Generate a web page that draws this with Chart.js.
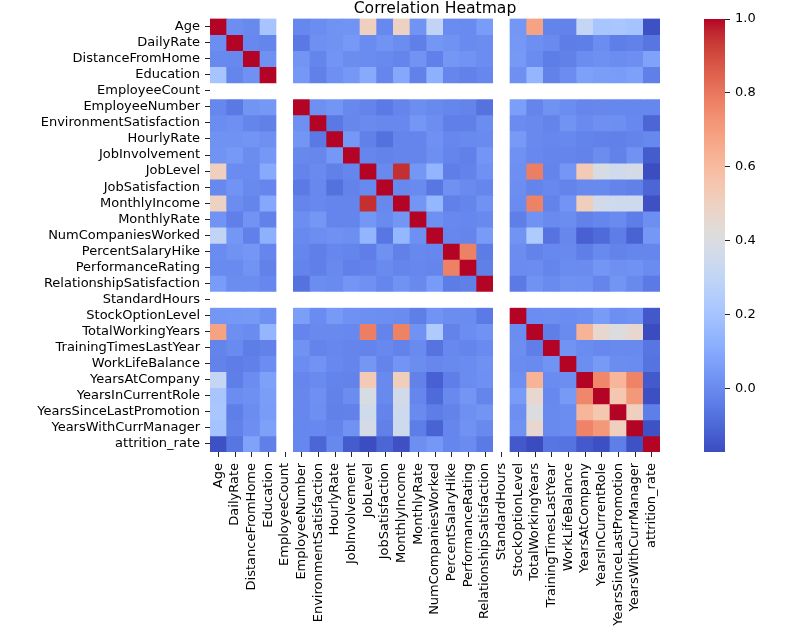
<!DOCTYPE html>
<html>
<head>
<meta charset="utf-8">
<script src="https://cdn.jsdelivr.net/npm/chart.js@4.4.1/dist/chart.umd.min.js"></script>
<style>
  body { margin: 0; background: #fff; }
  #wrap { position: relative; width: 796px; height: 642px; }
  #heat { position: absolute; left: 0; top: 0; }
  #cbar { position: absolute; left: 680px; top: 0; }
</style>
</head>
<body>
<div id="wrap">
  <canvas id="heat" width="796" height="642"></canvas>
  <canvas id="cbar" width="116" height="642"></canvas>
</div>
<script>
const labels = ['Age', 'DailyRate', 'DistanceFromHome', 'Education', 'EmployeeCount',
  'EmployeeNumber', 'EnvironmentSatisfaction', 'HourlyRate', 'JobInvolvement', 'JobLevel',
  'JobSatisfaction', 'MonthlyIncome', 'MonthlyRate', 'NumCompaniesWorked', 'PercentSalaryHike',
  'PerformanceRating', 'RelationshipSatisfaction', 'StandardHours', 'StockOptionLevel',
  'TotalWorkingYears', 'TrainingTimesLastYear', 'WorkLifeBalance', 'YearsAtCompany',
  'YearsInCurrentRole', 'YearsSinceLastPromotion', 'YearsWithCurrManager', 'attrition_rate'];

// upper triangle: row i holds the values for columns i+1 .. 26 (null = constant column)
const upper = [
  [0.011, -0.002, 0.208, null, -0.010, 0.010, 0.024, 0.030, 0.510, -0.005, 0.498, 0.028, 0.300, 0.004, 0.002, 0.054, null, 0.038, 0.680, -0.020, -0.021, 0.311, 0.213, 0.217, 0.202, -0.159],
  [-0.005, -0.017, null, -0.051, 0.018, 0.023, 0.046, 0.003, 0.030, 0.008, -0.032, 0.038, 0.023, 0.000, 0.008, null, 0.042, 0.015, 0.002, -0.038, -0.034, 0.010, -0.033, -0.026, -0.057],
  [0.021, null, 0.033, -0.016, 0.031, 0.009, 0.005, -0.003, -0.017, 0.027, -0.029, 0.040, 0.027, 0.007, null, 0.045, 0.005, -0.037, -0.027, 0.010, 0.019, 0.010, 0.014, 0.078],
  [null, 0.042, -0.027, 0.017, 0.042, 0.102, -0.011, 0.095, -0.026, 0.126, -0.011, -0.025, -0.009, null, 0.018, 0.148, -0.025, 0.010, 0.069, 0.060, 0.054, 0.069, -0.031],
  [null, null, null, null, null, null, null, null, null, null, null, null, null, null, null, null, null, null, null, null, null, null],
  [0.018, 0.035, -0.007, -0.019, -0.046, -0.015, 0.013, -0.001, -0.013, -0.020, -0.070, null, 0.062, -0.014, 0.024, 0.010, -0.011, -0.008, -0.009, -0.009, -0.010],
  [-0.050, -0.008, 0.001, -0.007, -0.006, 0.037, 0.013, -0.032, -0.030, 0.008, null, 0.003, -0.003, -0.019, 0.028, 0.002, 0.018, 0.016, -0.005, -0.103],
  [0.043, -0.028, -0.071, -0.016, -0.015, 0.022, -0.009, -0.002, 0.001, null, 0.050, -0.002, -0.009, -0.005, -0.020, -0.024, -0.027, -0.020, -0.007],
  [-0.013, -0.021, -0.015, -0.016, 0.015, -0.017, -0.029, 0.034, null, 0.022, -0.006, -0.015, -0.015, -0.021, 0.009, -0.024, 0.026, -0.130],
  [-0.002, 0.950, 0.040, 0.143, -0.035, -0.021, 0.022, null, 0.014, 0.782, -0.018, 0.038, 0.535, 0.389, 0.354, 0.375, -0.169],
  [-0.007, 0.001, -0.056, 0.020, 0.002, -0.012, null, 0.011, -0.020, -0.006, -0.019, -0.004, -0.002, -0.018, -0.028, -0.103],
  [0.035, 0.150, -0.027, -0.017, 0.026, null, 0.005, 0.773, -0.022, 0.031, 0.514, 0.364, 0.345, 0.344, -0.160],
  [0.018, -0.006, -0.010, -0.004, null, -0.034, 0.026, 0.001, 0.008, -0.024, -0.013, 0.002, -0.037, 0.015],
  [-0.010, -0.014, 0.053, null, 0.030, 0.237, -0.066, -0.008, -0.118, -0.091, -0.037, -0.111, 0.043],
  [0.774, -0.040, null, 0.008, -0.021, -0.005, -0.003, -0.036, -0.001, -0.022, -0.012, -0.013],
  [-0.031, null, 0.003, 0.007, -0.016, 0.003, 0.003, 0.035, 0.018, 0.023, 0.003],
  [null, -0.046, 0.024, 0.002, 0.020, 0.019, -0.015, 0.033, -0.001, -0.046],
  [null, null, null, null, null, null, null, null, null],
  [0.010, 0.011, 0.004, 0.015, 0.051, 0.014, 0.025, -0.137],
  [-0.036, 0.001, 0.628, 0.460, 0.404, 0.459, -0.171],
  [0.028, 0.004, -0.006, -0.002, -0.004, -0.059],
  [0.012, 0.050, 0.009, 0.003, -0.064],
  [0.759, 0.618, 0.769, -0.134],
  [0.548, 0.714, -0.161],
  [0.510, -0.033],
  [-0.156],
  []
];

const constantCols = [4, 17];
const cbTicks = [0.0, 0.2, 0.4, 0.6, 0.8, 1.0];

// full symmetric matrix
const n = labels.length;
const corr = labels.map((_, i) => labels.map((_, j) => {
  if (constantCols.includes(i) || constantCols.includes(j)) return null;
  if (i === j) return 1;
  return i < j ? upper[i][j - i - 1] : upper[j][i - j - 1];
}));
const flat = corr.flat().filter(v => v !== null);
const vmin = Math.min(...flat);
const vmax = Math.max(...flat);

// coolwarm (Moreland) lookup
const cw = [[59,76,192],[68,90,204],[77,104,215],[87,117,225],[98,130,234],[108,142,241],
  [119,154,247],[130,165,251],[141,176,254],[152,185,255],[163,194,255],[174,201,253],
  [184,208,249],[194,213,244],[204,217,238],[213,219,230],[221,221,221],[229,216,209],
  [236,211,197],[241,204,185],[245,196,173],[247,187,160],[247,177,148],[247,166,135],
  [244,154,123],[241,141,111],[236,127,99],[229,112,88],[222,96,77],[213,80,66],
  [203,62,56],[192,40,47],[180,4,38]];

function coolwarm(t) {
  t = Math.max(0, Math.min(1, t));
  const p = t * (cw.length - 1);
  const i = Math.min(Math.floor(p), cw.length - 2);
  const f = p - i;
  const c = cw[i].map((a, k) => Math.round(a + (cw[i + 1][k] - a) * f));
  return `rgb(${c[0]},${c[1]},${c[2]})`;
}

const font = { family: 'DejaVu Sans', size: 13 };
const tickGrid = { drawOnChartArea: false, drawTicks: true, tickLength: 5, tickColor: '#222', lineWidth: 1 };

// each row is a stack segment of height 1 in every column
const datasets = labels.map((rowName, i) => ({
  label: rowName,
  data: labels.map(() => 1),
  backgroundColor: corr[i].map(v => v === null ? '#ffffff' : coolwarm((v - vmin) / (vmax - vmin))),
  borderWidth: 0,
  barPercentage: 1,
  categoryPercentage: 1
}));

new Chart(document.getElementById('heat'), {
  type: 'bar',
  data: { labels: labels, datasets: datasets },
  options: {
    responsive: false,
    animation: false,
    layout: { padding: { left: 0, right: 136, top: 0, bottom: 0 } },
    plugins: {
      legend: { display: false },
      tooltip: { enabled: false },
      title: {
        display: true,
        text: 'Correlation Heatmap',
        fullSize: false,
        color: '#000',
        font: { family: 'DejaVu Sans', size: 15.6, weight: 'normal', lineHeight: 1.0 },
        padding: { top: 1, bottom: 2 }
      }
    },
    scales: {
      x: {
        stacked: true,
        grid: Object.assign({ offset: false }, tickGrid),
        border: { display: false },
        ticks: { autoSkip: false, maxRotation: 90, minRotation: 90, color: '#000', font: font, padding: 6 },
        afterFit: s => { s.height = 190; }
      },
      y: {
        stacked: true,
        reverse: true,
        min: 0,
        max: n,
        grid: tickGrid,
        border: { display: false },
        afterBuildTicks: s => { s.ticks = labels.map((_, i) => ({ value: i + 0.5 })); },
        ticks: { autoSkip: false, color: '#000', font: font, padding: 5, callback: (v, i) => labels[i] },
        afterFit: s => { s.width = 210; }
      }
    }
  }
});

// colorbar
new Chart(document.getElementById('cbar'), {
  type: 'bar',
  data: {
    labels: [''],
    datasets: [{
      data: [[vmin, vmax]],
      borderWidth: 0,
      barPercentage: 1,
      categoryPercentage: 1,
      backgroundColor: ctx => {
        const chart = ctx.chart;
        if (!chart.chartArea) return null;
        const y = chart.scales.y;
        const g = chart.ctx.createLinearGradient(0, y.getPixelForValue(vmin), 0, y.getPixelForValue(vmax));
        cw.forEach((c, k) => g.addColorStop(k / (cw.length - 1), `rgb(${c[0]},${c[1]},${c[2]})`));
        return g;
      }
    }]
  },
  options: {
    responsive: false,
    animation: false,
    layout: { padding: { left: 24, right: 0, top: 19, bottom: 190 } },
    plugins: { legend: { display: false }, tooltip: { enabled: false } },
    scales: {
      x: { display: false },
      y: {
        position: 'right',
        min: vmin,
        max: vmax,
        grid: tickGrid,
        border: { display: false },
        afterBuildTicks: s => { s.ticks = cbTicks.map(v => ({ value: v })); },
        ticks: { color: '#000', font: font, padding: 5, callback: v => v.toFixed(1) },
        afterFit: s => { s.width = 71; }
      }
    }
  }
});
</script>
</body>
</html>
